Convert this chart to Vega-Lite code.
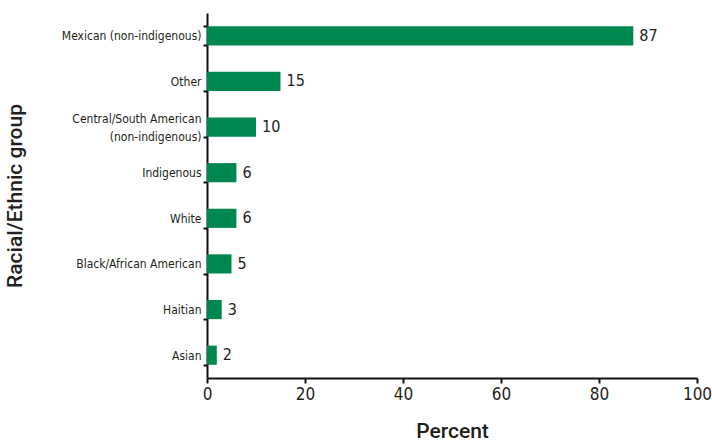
{
  "$schema": "https://vega.github.io/schema/vega-lite/v6.json",
  "autosize": "none",
  "width": 490,
  "height": 365,
  "padding": {"left": 207, "top": 13, "right": 15, "bottom": 65},
  "background": "white",
  "data": {
    "values": [
      {"group": "Mexican (non-indigenous)", "percent": 87},
      {"group": "Other", "percent": 15},
      {"group": "Central/South American (non-indigenous)", "percent": 10},
      {"group": "Indigenous", "percent": 6},
      {"group": "White", "percent": 6},
      {"group": "Black/African American", "percent": 5},
      {"group": "Haitian", "percent": 3},
      {"group": "Asian", "percent": 2}
    ]
  },
  "config": {
    "view": {"stroke": null},
    "axis": {
      "domainColor": "#111111",
      "domainWidth": 2,
      "tickColor": "#111111",
      "tickWidth": 2,
      "grid": false,
      "labelColor": "#231f20",
      "titleColor": "#231f20"
    }
  },
  "encoding": {
    "y": {
      "field": "group",
      "type": "nominal",
      "sort": null,
      "scale": {"paddingInner": 0.58, "paddingOuter": 0.29},
      "axis": {
        "title": "Racial/Ethnic group",
        "titleFont": "Roboto, Liberation Sans, sans-serif",
        "titleFontSize": 21,
        "titleFontWeight": 500,
        "titlePadding": 36,
        "labelFont": "DejaVu Sans Condensed, sans-serif",
        "labelFontSize": 12,
        "labelPadding": 2,
        "labelLimit": 300,
        "tickBand": "extent",
        "tickSize": 4,
        "labelExpr": "datum.value == 'Central/South American (non-indigenous)' ? ['Central/South American', '(non-indigenous)'] : datum.value",
        "labelLineHeight": 18,
        "labelOffset": {
          "condition": {"test": "datum.value == 'Central/South American (non-indigenous)'", "value": -9},
          "value": 0
        }
      }
    },
    "x": {
      "field": "percent",
      "type": "quantitative",
      "scale": {"domain": [0, 100], "nice": false},
      "axis": {
        "title": "Percent",
        "titleFont": "Roboto, Liberation Sans, sans-serif",
        "titleFontSize": 21,
        "titleFontWeight": 500,
        "titlePadding": 18,
        "values": [0, 20, 40, 60, 80, 100],
        "labelFont": "DejaVu Sans Condensed, sans-serif",
        "labelFontSize": 17,
        "labelPadding": 3,
        "tickSize": 5,
        "labelFlush": false,
        "labelOverlap": false
      }
    }
  },
  "layer": [
    {"mark": {"type": "bar", "color": "#00874f"}},
    {
      "mark": {
        "type": "text",
        "align": "left",
        "baseline": "middle",
        "dx": 6,
        "font": "DejaVu Sans Condensed, sans-serif",
        "fontSize": 16,
        "color": "#231f20"
      },
      "encoding": {"text": {"field": "percent", "type": "quantitative"}}
    }
  ]
}
